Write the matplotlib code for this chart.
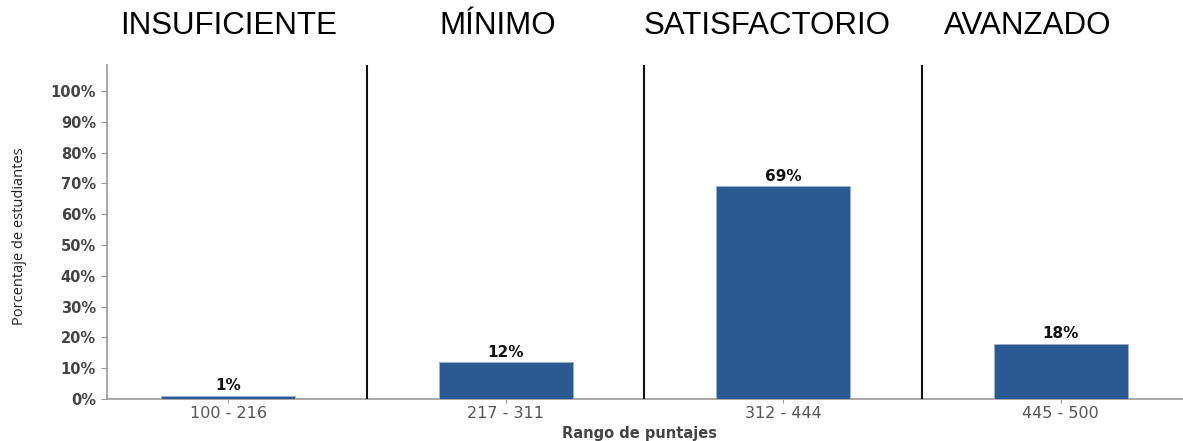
import matplotlib
matplotlib.use("Agg")
import matplotlib.pyplot as plt
import numpy as np

categories = ["100 - 216", "217 - 311", "312 - 444", "445 - 500"]
values = [1, 12, 69, 18]
levels = ["INSUFICIENTE", "MÍNIMO", "SATISFACTORIO", "AVANZADO"]
yticks = list(range(0, 101, 10))

fig = plt.figure(figsize=(11.83, 4.41), dpi=100)
ax = fig.add_axes([107/1183, 42/441, 1 - 107/1183, (399-65)/441])

x = np.arange(len(categories))
bar_color = "#2B5991"
ax.bar(x, values, width=0.483, color=bar_color, edgecolor="#9DB3D0", linewidth=0.6, zorder=3)
for xi, v in zip(x, values):
    ax.text(xi, v + 0.8, f"{v}%", ha="center", va="bottom", fontsize=11,
            fontweight="bold", color="#111111", family="DejaVu Sans")

for b in x[:-1] + 0.5:
    ax.axvline(b, color="#111111", linewidth=1.5, zorder=4)

ax.set_xlim(-0.436, 3.44)
ax.set_ylim(0, 108.4)
ax.set_yticks(yticks)
ax.set_yticklabels([f"{t}%" for t in yticks], fontsize=10.5, fontweight="bold",
                   color="#444444", family="DejaVu Sans")
ax.set_xticks(x)
ax.set_xticklabels(categories, fontsize=11.5, color="#555555", family="DejaVu Sans")
ax.tick_params(axis="y", length=4, color="#999999", pad=4)
ax.tick_params(axis="x", length=3, color="#999999", pad=2)
for s in ["top", "right"]:
    ax.spines[s].set_visible(False)
for s in ["left", "bottom"]:
    ax.spines[s].set_color("#999999")
    ax.spines[s].set_linewidth(1.2)

ax.set_ylabel("Porcentaje de estudiantes", fontsize=10.5, color="#222222",
              family="Open Sans")
ax.yaxis.set_label_coords(-0.0745, 0.488)
ax.set_xlabel("Rango de puntajes", fontsize=10.5, fontweight="bold", color="#444444",
              family="DejaVu Sans", va="center")
ax.xaxis.set_label_coords(0.495, -0.102)

header_x = [229, 498, 767, 1028]
for hx, lab in zip(header_x, levels):
    fig.text(hx/1183, 1 - 26/441, lab, ha="center", va="center", fontsize=22.5,
             family="Liberation Sans", color="black")

fig.savefig("out.png", dpi=100)
